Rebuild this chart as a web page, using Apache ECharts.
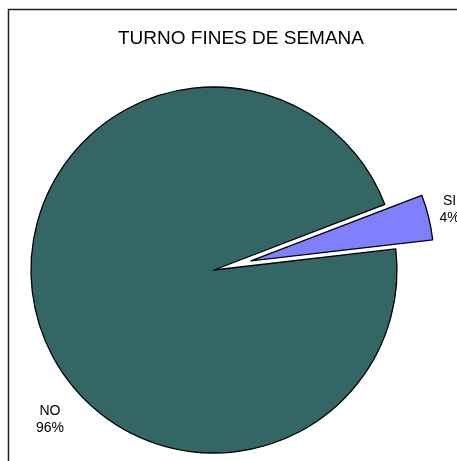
<!DOCTYPE html>
<html>
<head>
<meta charset="utf-8">
<script src="https://cdn.jsdelivr.net/npm/echarts@6/dist/echarts.min.js"></script>
<style>
  html, body { margin: 0; padding: 0; background: #fff; }
  #chart { width: 457px; height: 461px; }
</style>
</head>
<body>
<div id="chart"></div>
<script>
// data
const categories = ["SI", "NO"];
const values = [4, 96];
const colors = ["#8080FF", "#336664"];
// spot of the NO label (Excel puts it by hand, not on the slice bisector)
const noLabelSpot = [50, 420];

const chart = echarts.init(document.getElementById("chart"));

chart.setOption({
  animation: false,
  title: {
    text: "TURNO FINES DE SEMANA",
    left: 236,
    top: 24,
    textAlign: "center",
    textStyle: {
      fontFamily: "Liberation Sans, Arial, sans-serif",
      fontSize: 19,
      fontWeight: "normal",
      color: "#000"
    }
  },
  graphic: [
    {
      type: "rect",
      shape: { x: 8.5, y: 9.5, width: 470, height: 470 },
      style: { fill: null, stroke: "#222", lineWidth: 1.5 },
      silent: true
    }
  ],
  series: [
    {
      type: "pie",
      center: [214, 270],
      radius: 183,
      startAngle: 21,
      clockwise: true,
      avoidLabelOverlap: false,
      selectedMode: "single",
      selectedOffset: 38,
      emphasis: { disabled: true },
      itemStyle: { borderColor: "#000", borderWidth: 1.3 },
      label: {
        show: true,
        position: "inside",
        formatter: "{a|{b}}\n{a|{d}%}",
        overflow: "none",
        fontFamily: "Liberation Sans, Arial, sans-serif",
        fontSize: 14,
        color: "#000",
        rich: {
          a: {
            width: 30,
            align: "center",
            lineHeight: 17,
            fontFamily: "Liberation Sans, Arial, sans-serif",
            fontSize: 14,
            color: "#000"
          }
        }
      },
      labelLine: { show: false, length: 4, length2: 0 },
      labelLayout: function (p) {
        if (p.dataIndex !== 1) return { dx: -3, dy: -7 };
        return { x: noLabelSpot[0], y: noLabelSpot[1], align: "center", verticalAlign: "middle" };
      },
      data: categories.map((c, i) => ({
        name: c,
        value: values[i],
        selected: i === 0,
        itemStyle: { color: colors[i] },
        label: i === 0 ? { position: "outside" } : undefined
      }))
    }
  ]
});
</script>
</body>
</html>
